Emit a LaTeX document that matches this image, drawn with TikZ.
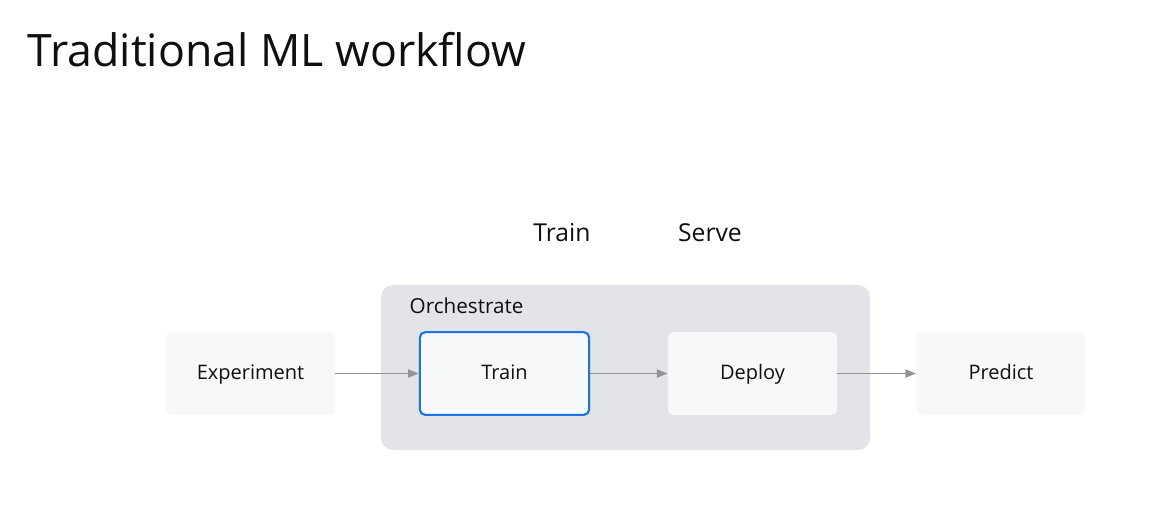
\documentclass[tikz,border=0pt]{standalone}
\usepackage{fontspec}
\setmainfont{Open Sans}
\usetikzlibrary{arrows.meta, positioning, calc, fit, backgrounds}
\definecolor{gBlue}{RGB}{26, 115, 232}
\definecolor{gGray}{RGB}{145, 147, 151}
\definecolor{gPanel}{RGB}{227, 228, 232}
\definecolor{gBox}{RGB}{247, 248, 249}
\definecolor{gText}{RGB}{15, 15, 17}

\begin{document}
\begin{tikzpicture}[
        x=0.75pt, y=-0.75pt,
        node distance=60pt,
        box/.style={rectangle, rounded corners=4pt, fill=gBox, minimum width=127pt, minimum height=62pt, align=center, text height=2ex, text depth=0.3ex, font=\fontsize{15}{18}\selectfont, text=gText},
        arrow/.style={-{Triangle[length=8pt, width=6pt]}, line width=1.4pt, gGray},
        stage/.style={font=\fontsize{18.5}{22}\selectfont, text=gText, text height=2ex, text depth=0.3ex}
    ]
        \useasboundingbox (0,0) rectangle (1169,512);
        % Title
        \node[anchor=west, font=\fontsize{33.5}{40}\selectfont, text=gText] (title) at (23,50) {Traditional ML workflow};

        % Orchestrate panel
        \fill[gPanel, rounded corners=9pt] (381,285) rectangle (870,450);
        \node[anchor=west, font=\fontsize{15.5}{18}\selectfont, text=gText] (orch) at (405,306) {Orchestrate};

        % Flow
        \node[box] (exp) at (250.5,373.5) {Experiment};
        \node[box, draw=gBlue, line width=1.6pt] (train) at (504.5,373.5) {Train};
        \node[box] (deploy) at (752.5,373.5) {Deploy};
        \node[box] (predict) at (1001,373.5) {Predict};

        % Stage labels
        \node[stage] (trainlbl) at (562,235) {Train};
        \node[stage, right=111pt of trainlbl.center, anchor=center] (servelbl) {Serve};

        \draw[arrow] (exp) -- (train);
        \draw[arrow] (train) -- (deploy);
        \draw[arrow] (deploy) -- (predict);
    \end{tikzpicture}
\end{document}
